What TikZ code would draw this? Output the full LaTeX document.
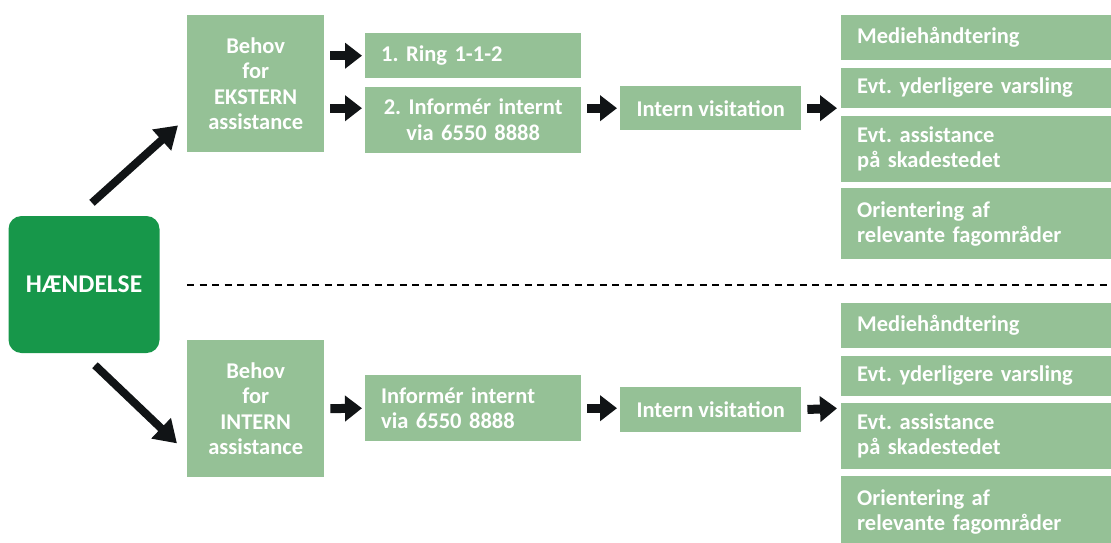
\documentclass[tikz,border=0pt]{standalone}
\usepackage{fontspec}
\setmainfont{Carlito}
\usepackage{xcolor}
\usetikzlibrary{positioning, arrows.meta}
\definecolor{softgreen}{RGB}{149,193,150}
\definecolor{deepgreen}{RGB}{23,151,74}
\definecolor{arrowblack}{RGB}{17,20,22}
\tikzstyle{every node}=[font=\fontsize{22.5}{25.5}\selectfont\bfseries, text=white]
\tikzstyle{event} = [rectangle, rounded corners=13pt, fill=deepgreen, minimum width=151pt, minimum height=137pt, font=\fontsize{25.5}{28}\selectfont\bfseries]
\tikzstyle{need} = [rectangle, fill=softgreen, minimum width=137pt, minimum height=137pt, align=center, inner sep=0pt]
\tikzstyle{action} = [rectangle, fill=softgreen, inner xsep=16pt, inner ysep=0pt, align=left]
\tikzstyle{outcome} = [rectangle, fill=softgreen, inner xsep=16pt, inner ysep=0pt, text width=238pt, align=left]
\tikzstyle{bigarrow} = [line width=8pt, draw=arrowblack, -{Triangle[length=22pt,width=27pt]}]
\tikzstyle{blockarrow} = [line width=9pt, draw=arrowblack, -{Triangle[length=17pt,width=25pt]}, shorten <=6pt, shorten >=3pt]
\tikzstyle{divider} = [line width=2pt, draw=black, dash pattern=on 7pt off 5.5pt]
\frenchspacing

\begin{document}
\begin{tikzpicture}[x=1pt,y=-1pt]
		\useasboundingbox (0,0) rectangle (1111,542);
		\node (event) [event] at (84,284.5) {HÆNDELSE};
		\node (needE) [need, anchor=north west] at (187,15) {Behov\\for\\EKSTERN\\assistance};
		\node (ring) [action, anchor=north west, text width=184pt, minimum height=45pt] at (365,33) {1. Ring 1-1-2};
		\node (infoE) [action, below=8pt of ring, text width=184pt, minimum height=66pt, align=center] {2. Informér internt\\via 6550 8888};
		\node (visE) [action, anchor=north west, inner xsep=0pt, minimum width=181pt, minimum height=44pt] at (620,86) {Intern visitation};
		\node (medE) [outcome, anchor=north west, minimum height=45pt] at (841,15) {Mediehåndtering};
		\node (warnE) [outcome, below=7pt of medE, minimum height=40pt] {Evt. yderligere varsling};
		\node (helpE) [outcome, below=8pt of warnE, minimum height=66pt] {Evt. assistance\\på skadestedet};
		\node (orientE) [outcome, below=6pt of helpE, minimum height=71pt] {Orientering af\\relevante fagområder};
		\node (needI) [need, anchor=north west] at (187,340) {Behov\\for\\INTERN\\assistance};
		\node (infoI) [action, anchor=north west, text width=184pt, minimum height=66pt] at (365,375) {Informér internt\\via 6550 8888};
		\node (visI) [action, anchor=north west, inner xsep=0pt, minimum width=181pt, minimum height=45pt] at (620,387) {Intern visitation};
		\node (medI) [outcome, anchor=north west, minimum height=45pt] at (841,303) {Mediehåndtering};
		\node (warnI) [outcome, below=7pt of medI, minimum height=40pt] {Evt. yderligere varsling};
		\node (helpI) [outcome, below=7pt of warnI, minimum height=66pt] {Evt. assistance\\på skadestedet};
		\node (orientI) [outcome, below=7pt of helpI, minimum height=71pt] {Orientering af\\relevante fagområder};
		\coordinate (lineEnd) at (1111,284.5);
		\draw [divider](needE.west |- event.center) -- (lineEnd);
		\draw [bigarrow]([xshift=8pt,yshift=13pt]event.north) -- ([xshift=-9pt,yshift=27pt]needE.south west);
		\draw [bigarrow]([xshift=11pt,yshift=-12pt]event.south) -- ([xshift=-10pt,yshift=34pt]needI.south west);
		\draw [blockarrow](needE.east |- ring.west) -- (ring.west);
		\draw [blockarrow](needE.east |- visE.west) -- (infoE.west |- visE.west);
		\draw [blockarrow](infoE.east |- visE.west) -- (visE.west);
		\draw [blockarrow, shorten >=4pt](visE.east) -- (medE.west |- visE.east);
		\draw [blockarrow](needI.east) -- (infoI.west);
		\draw [blockarrow](infoI.east) -- (visI.west |- infoI.east);
		\draw [blockarrow, shorten >=4pt](visI.east) -- (medI.west |- infoI.east);
	\end{tikzpicture}
\end{document}
